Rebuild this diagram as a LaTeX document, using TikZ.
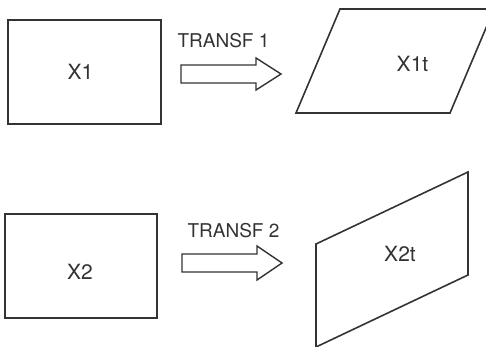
\documentclass[tikz,border=0pt]{standalone}
\usepackage{fontspec}
\setmainfont{TeX Gyre Heros}
\definecolor{ink}{HTML}{333333}
\begin{document}
\begin{tikzpicture}[x=1pt,y=-1pt,
  pgram/.style={draw=ink,line width=1.6pt,line join=miter},
  boxshape/.style={draw=ink,line width=2pt,inner sep=0pt,outer sep=0pt},
  lbl/.style={text=ink,inner sep=0pt,font=\fontsize{21}{21}\selectfont},
  tlbl/.style={text=ink,inner sep=0pt,font=\fontsize{19}{19}\selectfont},
  blockarrow/.style={draw=ink,line width=1.4pt,line join=miter}]
\useasboundingbox (0,0) rectangle (486,347);
\clip (0,0) rectangle (486,347);
% top row
\node[boxshape,minimum width=153pt,minimum height=104pt] (box1) at (84.5,72) {};
\node[lbl] (t1) at (80.5,71.5) {X1};
\node[tlbl] (tr1) at (223.5,41) {TRANSF 1};
\draw[blockarrow] (181,65) coordinate (a1) -- (256,65) -- (256,58) -- (281,74) -- (256,90) -- (256,83) -- (181,83) -- cycle;
\draw[pgram] (296,113) coordinate (p1) -- (340,9) -- (494,9) -- (450,113) -- cycle;
\node[lbl] (t1t) at (412.5,63.5) {X1t};
% bottom row
\node[boxshape,minimum width=152pt,minimum height=104pt] (box2) at (81,266) {};
\node[lbl] (t2) at (80,271.5) {X2};
\node[tlbl] (tr2) at (233.5,231) {TRANSF 2};
\draw[blockarrow] (182,254) coordinate (a2) -- (257,254) -- (257,246) -- (282,263) -- (257,280) -- (257,272) -- (182,272) -- cycle;
\draw[pgram] (316,244) coordinate (p2) -- (468,172) -- (468,275) -- (316,347) -- cycle;
\node[lbl] (t2t) at (400,254) {X2t};
\end{tikzpicture}
\end{document}
